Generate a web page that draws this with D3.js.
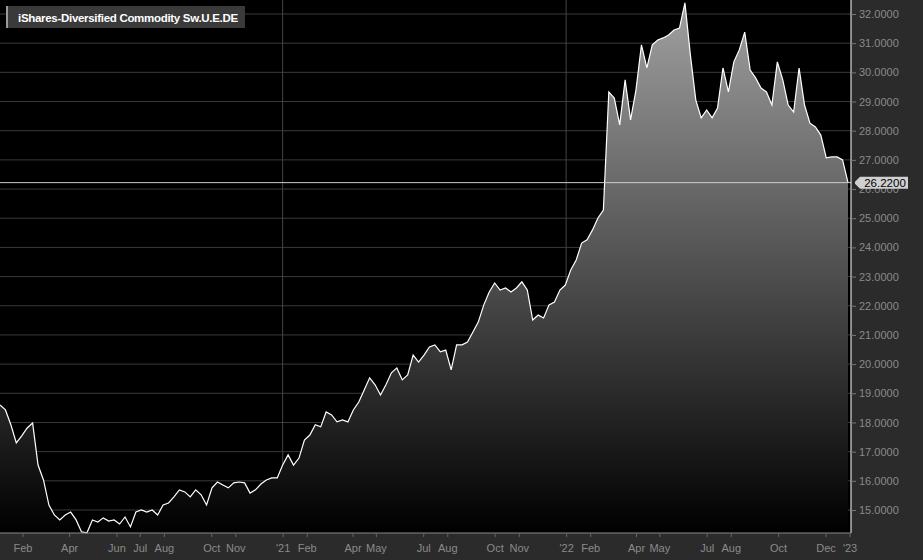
<!DOCTYPE html>
<html><head><meta charset="utf-8">
<script src="https://cdn.jsdelivr.net/npm/d3@7"></script>
<style>body{margin:0;background:#2b2b2b;}svg{display:block;font-family:"Liberation Sans",Arial,sans-serif;}</style>
</head><body><div id="chart"></div>
<script>
const title = "iShares-Diversified Commodity Sw.U.E.DE";
const startDate = "2020-01-03";
const prices = [18.60,18.43,17.92,17.30,17.54,17.81,17.98,16.54,16.03,15.17,14.83,14.66,14.83,14.93,14.66,14.25,14.22,14.66,14.59,14.73,
14.62,14.66,14.52,14.76,14.42,14.93,15.00,14.93,15.00,14.83,15.17,15.24,15.45,15.69,15.62,15.45,15.69,15.52,15.17,15.76,
15.96,15.86,15.76,15.93,15.96,15.93,15.58,15.69,15.89,16.03,16.10,16.10,16.54,16.89,16.54,16.78,17.40,17.57,17.92,17.85,
18.36,18.26,18.02,18.09,18.02,18.43,18.70,19.11,19.53,19.29,18.94,19.29,19.70,19.87,19.46,19.63,20.31,20.07,20.31,20.59,
20.66,20.42,20.48,19.80,20.66,20.66,20.76,21.10,21.45,22.03,22.47,22.78,22.54,22.61,22.47,22.61,22.82,22.54,21.51,21.68,
21.58,22.03,22.13,22.54,22.71,23.23,23.57,24.15,24.26,24.60,25.01,25.28,29.33,29.12,28.20,29.74,28.37,29.40,30.94,30.15,
30.94,31.11,31.18,31.28,31.45,31.52,32.38,30.60,29.05,28.44,28.71,28.44,28.78,30.15,29.33,30.36,30.77,31.38,30.08,29.81,
29.46,29.33,28.88,30.36,29.74,28.88,28.64,30.15,28.88,28.26,28.13,27.85,27.07,27.10,27.10,27.00,26.22];
const yTicks = [15,16,17,18,19,20,21,22,23,24,25,26,27,28,29,30,31,32];
const xTickDates = ["2020-02-01","2020-04-01","2020-06-01","2020-07-01","2020-08-01","2020-10-01","2020-11-01",
"2021-01-01","2021-02-01","2021-04-01","2021-05-01","2021-07-01","2021-08-01","2021-10-01","2021-11-01",
"2022-01-01","2022-02-01","2022-04-01","2022-05-01","2022-07-01","2022-08-01","2022-10-01","2022-12-01","2023-01-01"];

const W = 923, H = 560;
const margin = {top: 0, right: 72, bottom: 27, left: 0};
const pw = W - margin.right, ph = H - margin.bottom;

const t0 = d3.isoParse(startDate);
const data = prices.map((v, i) => ({date: d3.timeWeek.offset(t0, i), value: v}));
const dateOf = s => d3.isoParse(s);

const x = d3.scaleTime().domain([t0, data[data.length - 1].date]).range([0, pw - 3]);
const y = d3.scaleLinear().domain([15, 32]).range([510, 14]);

const svg = d3.select("#chart").append("svg").attr("width", W).attr("height", H);

const defs = svg.append("defs");
const grad = defs.append("linearGradient").attr("id", "fillGrad")
    .attr("x1", 0).attr("y1", 0).attr("x2", 0).attr("y2", 1);
grad.append("stop").attr("offset", "0%").attr("stop-color", "#a0a0a0");
grad.append("stop").attr("offset", "100%").attr("stop-color", "#000");

svg.append("rect").attr("width", pw).attr("height", ph).attr("fill", "#000");

// grid
svg.append("g").selectAll("line").data(yTicks).join("line")
    .attr("x1", 0).attr("x2", pw).attr("y1", d => y(d)).attr("y2", d => y(d))
    .attr("stroke", "#3a3a3a").attr("stroke-width", 1);
svg.append("g").selectAll("line").data(["2021-01-01", "2022-01-01"]).join("line")
    .attr("x1", d => x(dateOf(d))).attr("x2", d => x(dateOf(d)))
    .attr("y1", 0).attr("y2", ph).attr("stroke", "#444");

const area = d3.area().x(d => x(d.date)).y0(ph).y1(d => y(d.value));
const line = d3.line().x(d => x(d.date)).y(d => y(d.value));
svg.append("path").datum(data).attr("d", area).attr("fill", "url(#fillGrad)");
svg.append("path").datum(data).attr("d", line).attr("fill", "none")
    .attr("stroke", "#fff").attr("stroke-width", 1.2);

const last = prices[prices.length - 1];
svg.append("line").attr("x1", 0).attr("x2", pw).attr("y1", y(last)).attr("y2", y(last))
    .attr("stroke", "#ccc").attr("stroke-width", 1);

// right axis
const yAxis = svg.append("g").attr("transform", `translate(${pw},0)`)
    .call(d3.axisRight(y).tickValues(yTicks).tickFormat(d3.format(".4f")).tickSize(5).tickSizeOuter(0));
yAxis.select(".domain").attr("stroke", "#fff").attr("d", `M0,0V${ph}`);
yAxis.selectAll(".tick line").attr("stroke", "#777");
yAxis.selectAll(".tick text").attr("fill", "#8a8a8a").attr("font-size", 11).attr("x", 8);

// bottom axis
const xAxis = svg.append("g").attr("transform", `translate(0,${ph})`)
    .call(d3.axisBottom(x).tickValues(xTickDates.map(dateOf)).tickSize(4).tickSizeOuter(0)
        .tickFormat(d => d.getMonth() === 0 ? "'" + d3.timeFormat("%y")(d) : d3.timeFormat("%b")(d)));
xAxis.select(".domain").attr("stroke", "#888").attr("d", `M0,0H${pw}`);
xAxis.selectAll(".tick line").attr("stroke", "#666");
xAxis.selectAll(".tick text").attr("fill", "#8a8a8a").attr("font-size", 11).attr("dy", "1.1em");

// last price label
const ly = y(last);
const lab = svg.append("g").attr("transform", `translate(${pw + 4},${ly})`);
lab.append("path").attr("d", "M0,0L5,-5H53V7H5L0,2Z").attr("fill", "#d0d0d0")
    .attr("transform", "translate(0,-1)");
lab.append("text").attr("x", 30).attr("y", 4.5).attr("text-anchor", "middle")
    .attr("font-size", 11.5).attr("fill", "#000").text(d3.format(".4f")(last));

// title
const tg = svg.append("g").attr("transform", "translate(6,6)");
tg.append("rect").attr("width", 239).attr("height", 22).attr("fill", "#3a3a3a");
tg.append("rect").attr("width", 2).attr("height", 22).attr("fill", "#9a9a9a");
tg.append("text").attr("x", 12).attr("y", 15.5).attr("fill", "#fff")
    .attr("font-size", 11.5).attr("font-weight", "bold").attr("letter-spacing", -0.3).text(title);
</script></body></html>
